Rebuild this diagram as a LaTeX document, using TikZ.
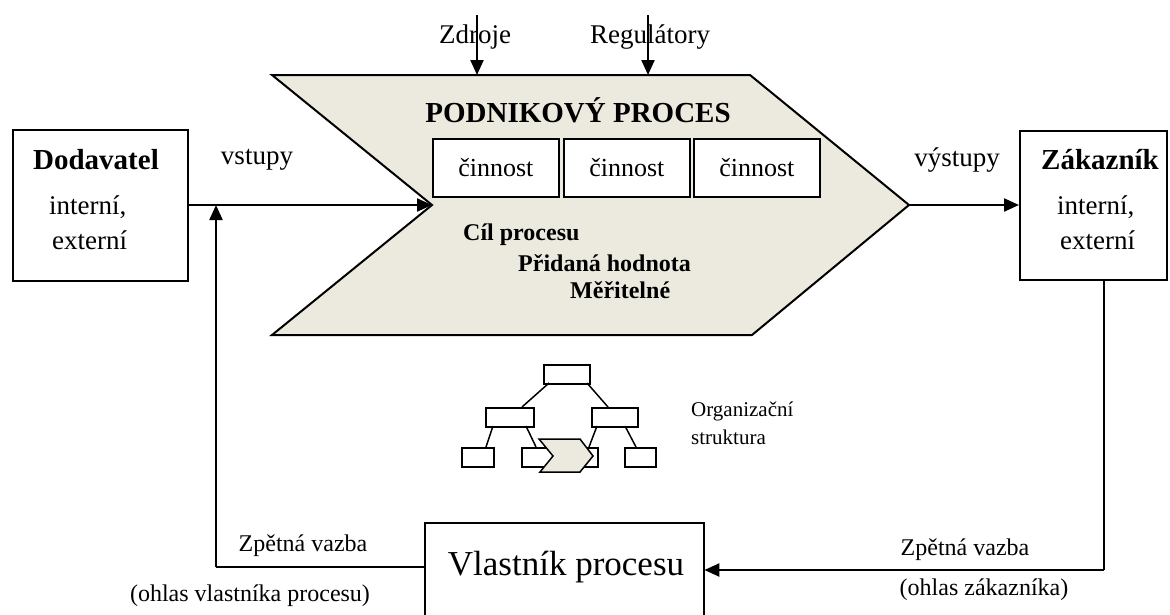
\documentclass[tikz,border=0pt]{standalone}
\usepackage{fontspec}
\setmainfont{Liberation Serif}
\usetikzlibrary{arrows.meta}
\definecolor{procfill}{RGB}{236,233,222}
\begin{document}
\begin{tikzpicture}[x=1pt,y=-1pt,
  conn/.style={line width=2pt},
  arr/.style={line width=2.2pt,-{Triangle[length=15pt,width=13pt]}},
  frame/.style={draw,line width=1.8pt,fill=white,inner sep=0pt,anchor=north west},
  act/.style={frame,minimum width=126pt,minimum height=58pt,font=\fontsize{26}{30}\selectfont},
  orgbox/.style={draw,line width=1.5pt,fill=white,inner sep=0pt,anchor=north west},
  orgline/.style={line width=1.5pt},
  lbl/.style={inner sep=0pt,font=\fontsize{27}{30}\selectfont},
  head/.style={inner sep=0pt,font=\fontsize{29}{32}\selectfont\bfseries},
  goal/.style={inner sep=0pt,anchor=west,font=\fontsize{24}{28}\selectfont\bfseries},
  small/.style={inner sep=0pt,font=\fontsize{24}{28}\selectfont},
]
\useasboundingbox (0,0) rectangle (1170,614);
\clip (0,0) rectangle (1170,614);

% process chevron
\draw[line width=2pt,fill=procfill,line join=miter]
  (272,75) -- (750,75) -- (909,205) -- (752,335) -- (272,335) -- (432,205) -- cycle;
\coordinate (notch) at (432,205);
\coordinate (tip) at (909,205);
\node[head] (title) at (578,110) {PODNIKOVÝ PROCES};

% activities
\node[act] (a1) at (432,138) {činnost};
\node[act] (a2) at (563,138) {činnost};
\node[act] (a3) at (693,138) {činnost};

% process goals
\node[goal] (g1) at (463,235) {Cíl procesu};
\node[goal] (g2) at (518,263) {Přidaná hodnota};
\node[goal] (g3) at (570,290) {Měřitelné};

% resources and regulators
\coordinate (zsrc) at (477,15);
\coordinate (zdst) at (477,75);
\coordinate (rsrc) at (648,15);
\coordinate (rdst) at (648,75);
\node[lbl] (zdroje) at (475,37) {Zdroje};
\node[lbl] (regul) at (650,37) {Regulátory};
\draw[arr] (zsrc) -- (zdst);
\draw[arr] (rsrc) -- (rdst);

% supplier
\node[frame,minimum width=175pt,minimum height=151pt] (dod) at (12,129) {};
\node[head] (dodt) at (96,160) {Dodavatel};
\node[lbl,anchor=west] (dod1) at (49,207) {interní,};
\node[lbl,anchor=west] (dod2) at (52,240) {externí};

% customer
\node[frame,minimum width=147pt,minimum height=149pt] (zak) at (1019,130) {};
\node[head] (zakt) at (1100,160) {Zákazník};
\node[lbl,anchor=west] (zak1) at (1057,207) {interní,};
\node[lbl,anchor=west] (zak2) at (1060,240) {externí};

% inputs and outputs
\node[lbl] (vst) at (257,160) {vstupy};
\node[lbl] (vyst) at (957,160) {výstupy};
\draw[arr] (dod.east |- notch) -- (notch);
\draw[arr] (tip) -- (zak.west |- tip);

% organisation structure
\node[orgbox,minimum width=46pt,minimum height=19pt] (o0) at (543,364) {};
\node[orgbox,minimum width=48pt,minimum height=19pt] (o1) at (485,407) {};
\node[orgbox,minimum width=46pt,minimum height=19pt] (o2) at (591,407) {};
\node[orgbox,minimum width=32pt,minimum height=19pt] (o11) at (461,447) {};
\node[orgbox,minimum width=32pt,minimum height=19pt] (o12) at (521,447) {};
\node[orgbox,minimum width=32pt,minimum height=19pt] (o21) at (565,447) {};
\node[orgbox,minimum width=31pt,minimum height=19pt] (o22) at (624,447) {};
\draw[orgline] (549,383) -- (522,407);
\draw[orgline] (587,383) -- (608,407);
\draw[orgline] (493,426) -- (486,447);
\draw[orgline] (526,426) -- (536,447);
\draw[orgline] (597,426) -- (589,447);
\draw[orgline] (625,426) -- (636,447);
\draw[line width=1.5pt,fill=procfill]
  (539,439) -- (580,439) -- (593,456) -- (580,472) -- (540,472) -- (553,456) -- cycle;
\node[small,anchor=west,font=\fontsize{21}{24}\selectfont] (org1) at (691,411) {Organizační};
\node[small,anchor=west,font=\fontsize{21}{24}\selectfont] (org2) at (691,437) {struktura};

% process owner
\draw[line width=1.8pt,fill=white] (425,640) -- (425,523) -- (704,523) -- (704,640);
\node[inner sep=0pt,minimum width=279pt,minimum height=100pt,anchor=north west] (own) at (425,523) {};
\node[inner sep=0pt,font=\fontsize{35}{40}\selectfont] (ownt) at (566,567) {Vlastník procesu};

% feedback loops
\coordinate (fbl) at (216,567);
\coordinate (fbr) at (1104,570);
\draw[conn] (own.west |- fbl) -- (fbl);
\draw[arr] (fbl) -- (fbl |- notch);
\draw[conn] (zak.south -| fbr) -- (fbr);
\draw[arr] (fbr) -- (own.east |- fbr);
\node[small] (fb1) at (303,546) {Zpětná vazba};
\node[small] (fb1b) at (250,596) {(ohlas vlastníka procesu)};
\node[small] (fb2) at (965,550) {Zpětná vazba};
\node[small] (fb2b) at (984,590) {(ohlas zákazníka)};
\end{tikzpicture}
\end{document}
